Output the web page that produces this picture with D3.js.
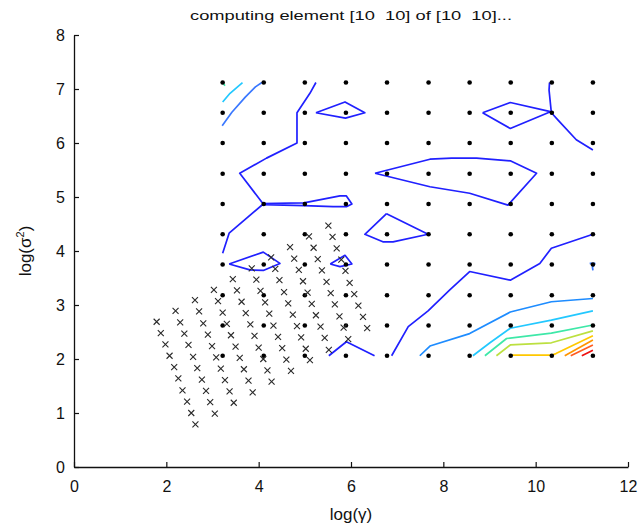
<!DOCTYPE html>
<html><head><meta charset="utf-8">
<script src="https://cdn.jsdelivr.net/npm/d3@7"></script>
<style>
html,body{margin:0;padding:0;background:#fff;}
svg{display:block;font-family:"Liberation Sans",Arial,sans-serif;}
.title{white-space:pre;}
</style></head>
<body>
<svg id="chart" width="639" height="527"></svg>
<script>
// ---------------- data ----------------
const titleText = "computing element [10  10] of [10  10]...";
const xTicks = [0, 2, 4, 6, 8, 10, 12];
const yTicks = [0, 1, 2, 3, 4, 5, 6, 7, 8];
const gridX = [3.22, 4.11, 5.00, 5.89, 6.78, 7.68, 8.57, 9.46, 10.35, 11.24];
const gridY = [2.06, 2.62, 3.18, 3.75, 4.31, 4.87, 5.43, 6.00, 6.56, 7.12];

const crossPoints = [
 [1.79,2.69],[1.88,2.48],[1.98,2.27],[2.07,2.06],[2.17,1.85],[2.26,1.64],[2.35,1.42],[2.45,1.21],[2.54,1.00],[2.63,0.79],
 [2.20,2.89],[2.30,2.68],[2.39,2.47],[2.48,2.26],[2.58,2.04],[2.67,1.83],[2.77,1.62],[2.86,1.41],[2.95,1.20],[3.05,0.99],
 [2.62,3.09],[2.71,2.88],[2.80,2.66],[2.90,2.45],[2.99,2.24],[3.08,2.03],[3.18,1.82],[3.27,1.61],[3.37,1.40],[3.46,1.19],
 [3.03,3.28],[3.12,3.07],[3.22,2.86],[3.31,2.65],[3.40,2.44],[3.50,2.23],[3.59,2.02],[3.68,1.81],[3.78,1.60],[3.87,1.38],
 [3.44,3.48],[3.53,3.27],[3.63,3.06],[3.72,2.85],[3.82,2.64],[3.91,2.43],[4.00,2.21],[4.10,2.00],[4.19,1.79],[4.28,1.58],
 [3.85,3.68],[3.95,3.47],[4.04,3.26],[4.14,3.05],[4.23,2.84],[4.32,2.62],[4.42,2.41],[4.51,2.20],[4.60,1.99],[4.70,1.78],
 [4.27,3.88],[4.36,3.67],[4.45,3.46],[4.55,3.24],[4.64,3.03],[4.74,2.82],[4.83,2.61],[4.92,2.40],[5.02,2.19],[5.11,1.98],
 [4.68,4.07],[4.77,3.86],[4.87,3.65],[4.96,3.44],[5.06,3.23],[5.15,3.02],[5.24,2.81],[5.34,2.60],[5.43,2.39],[5.52,2.17],
 [5.09,4.27],[5.19,4.06],[5.28,3.85],[5.37,3.64],[5.47,3.43],[5.56,3.22],[5.65,3.01],[5.75,2.79],[5.84,2.58],[5.94,2.37],
 [5.51,4.47],[5.60,4.26],[5.69,4.05],[5.79,3.84],[5.88,3.63],[5.97,3.41],[6.07,3.20],[6.16,2.99],[6.26,2.78],[6.35,2.57]
];

// contour lines: level index (0 = lowest / dark blue ... 10 = red) and vertices
const contourLevels = [0, 0, 0, 0, 0, 0, 0, 0, 0, 0, 0, 1, 1, 2, 3, 3, 5, 5, 6, 7, 8, 9, 10];
const contourPaths = [
 [[5.24,7.12],[5.11,6.92],[4.83,6.56],[4.83,6.00],[4.17,5.72],[3.59,5.44],[4.10,4.87],[3.36,4.33],[3.22,3.96]],
 [[4.10,4.88],[4.98,4.89],[5.76,5.02],[5.90,5.02],[6.02,4.87],[5.90,4.82],[5.61,4.82],[4.98,4.84],[4.10,4.86]],
 [[5.24,6.56],[5.87,6.76],[6.30,6.56],[5.88,6.46],[5.24,6.56]],
 [[3.36,3.76],[4.10,3.98],[4.46,3.77],[4.10,3.64],[3.81,3.65],[3.36,3.76]],
 [[5.55,3.76],[5.87,3.92],[6.02,3.76],[5.76,3.71],[5.55,3.76]],
 [[5.52,2.06],[5.90,2.32],[6.51,2.06]],
 [[8.85,6.56],[9.45,6.75],[10.32,6.58],[9.45,6.27],[8.85,6.56]],
 [[10.30,7.12],[10.29,6.98],[10.34,6.56],[10.52,6.39],[10.88,6.06],[11.24,5.87]],
 [[6.52,5.44],[7.71,5.70],[8.18,5.72],[8.72,5.72],[9.45,5.67],[10.02,5.44],[9.40,4.85],[8.57,5.07],[7.71,5.19],[6.52,5.44]],
 [[6.77,4.69],[7.67,4.31],[6.91,4.17],[6.69,4.17],[6.30,4.31],[6.77,4.69]],
 [[6.88,2.06],[7.24,2.60],[7.67,2.89],[8.14,3.28],[8.57,3.62],[9.45,3.46],[10.09,3.77],[10.34,4.05],[11.24,4.31]],
 [[3.21,6.32],[3.42,6.57],[3.71,6.85],[3.93,7.04],[4.07,7.12]],
 [[11.17,3.77],[11.28,3.77],[11.23,3.70],[11.24,3.64]],
 [[7.49,2.06],[7.71,2.24],[8.57,2.47],[9.45,2.87],[10.34,3.06],[11.24,3.12]],
 [[3.22,6.76],[3.38,6.92],[3.65,7.12]],
 [[8.64,2.06],[9.01,2.30],[9.45,2.57],[10.34,2.72],[11.24,2.89]],
 [[3.22,7.12],[3.27,7.06]],
 [[8.90,2.06],[9.37,2.38],[10.34,2.48],[11.24,2.63]],
 [[9.15,2.06],[9.45,2.26],[10.34,2.30],[11.24,2.52]],
 [[9.45,2.07],[10.34,2.07],[10.44,2.10],[11.24,2.43]],
 [[10.63,2.06],[11.24,2.35]],
 [[10.76,2.06],[11.24,2.26]],
 [[11.00,2.06],[11.24,2.16]]
];
const levelColors = ["#2020ff","#3a78ff","#1e8cff","#23c8ff","#24e0ff","#3ee8a8","#bce040","#ffc800","#ff9400","#ff5a1e","#ee1010"];

// ---------------- drawing ----------------
const svg = d3.select("#chart");
const x = d3.scaleLinear().domain([0, 12]).range([74, 628]);
const y = d3.scaleLinear().domain([0, 8]).range([467, 35]);

svg.append("text")
  .attr("class", "title")
  .attr("x", 351).attr("y", 20)
  .attr("text-anchor", "middle")
  .attr("font-size", 13.5)
  .attr("textLength", 322)
  .attr("lengthAdjust", "spacingAndGlyphs")
  .attr("fill", "#111")
  .text(titleText);

const gx = svg.append("g").attr("transform", `translate(0,${y(0)})`)
  .call(d3.axisBottom(x).tickValues(xTicks).tickSize(-5).tickSizeOuter(0).tickPadding(11));
const gy = svg.append("g").attr("transform", `translate(${x(0)},0)`)
  .call(d3.axisLeft(y).tickValues(yTicks).tickSize(-5).tickSizeOuter(0).tickPadding(9));
[gx, gy].forEach(g => {
  g.selectAll("path.domain").attr("stroke", "#111").attr("stroke-width", 1.3);
  g.selectAll(".tick line").attr("stroke", "#111").attr("stroke-width", 1.2);
  g.selectAll(".tick text").attr("font-size", 16).attr("fill", "#111")
    .attr("font-family", '"Liberation Sans",Arial,sans-serif');
});
gx.selectAll(".tick text").attr("dy", "0.9em");

svg.append("text")
  .attr("x", 351).attr("y", 520)
  .attr("text-anchor", "middle")
  .attr("font-size", 17)
  .attr("fill", "#111")
  .text("log(γ)");

const yl = svg.append("text")
  .attr("transform", `translate(31,${(y(0)+y(8))/2}) rotate(-90)`)
  .attr("text-anchor", "middle")
  .attr("font-size", 17)
  .attr("fill", "#111");
yl.append("tspan").text("log(σ");
yl.append("tspan").attr("font-size", 11).attr("dy", -7).text("2");
yl.append("tspan").attr("dy", 7).text(")");

// contours
const line = d3.line().x(d => x(d[0])).y(d => y(d[1]));
svg.append("g").selectAll("path")
  .data(contourPaths)
  .join("path")
  .attr("d", line)
  .attr("fill", "none")
  .attr("stroke", (d, i) => levelColors[contourLevels[i]])
  .attr("stroke-width", 1.7)
  .attr("stroke-linejoin", "round");

// grid dots
const gridPts = [];
gridX.forEach(gxv => gridY.forEach(gyv => gridPts.push([gxv, gyv])));
svg.append("g").selectAll("circle")
  .data(gridPts)
  .join("circle")
  .attr("cx", d => x(d[0]))
  .attr("cy", d => y(d[1]))
  .attr("r", 2.3)
  .attr("fill", "#000");

// crosses
const cs = 3;
svg.append("g").selectAll("path")
  .data(crossPoints)
  .join("path")
  .attr("d", d => {
    const px = x(d[0]), py = y(d[1]);
    return `M${px-cs},${py-cs}L${px+cs},${py+cs}M${px-cs},${py+cs}L${px+cs},${py-cs}`;
  })
  .attr("stroke", "#2a2a2a")
  .attr("stroke-width", 1.1)
  .attr("fill", "none");
</script>
</body></html>
